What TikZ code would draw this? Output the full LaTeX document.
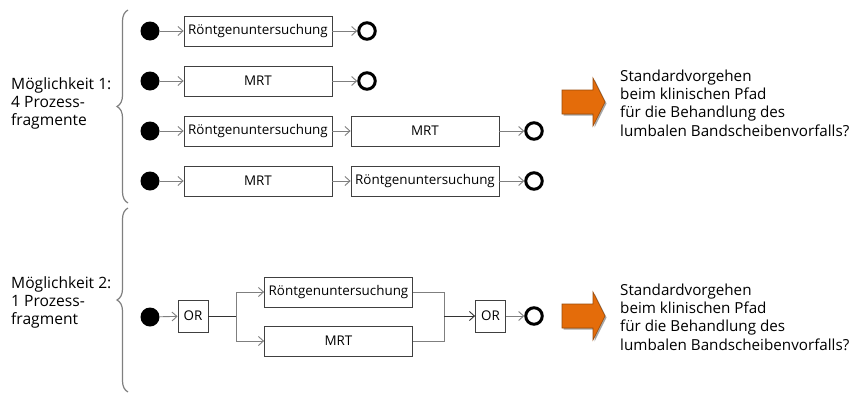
\documentclass[tikz,border=0pt]{standalone}
\usepackage{fontspec}
\setmainfont{Open Sans}
\usetikzlibrary{arrows.meta,decorations.pathreplacing,calc}

\definecolor{lineg}{HTML}{7F7F7F}
\definecolor{boxline}{HTML}{404040}
\definecolor{accent}{HTML}{E46C0A}
\definecolor{accentdark}{HTML}{9A4A08}

\tikzset{
  proc/.style={draw=boxline, line width=0.8pt, fill=white, minimum width=148pt,
    minimum height=30pt, inner sep=0pt, font=\fontsize{13.4}{15}\selectfont},
  gate/.style={draw=boxline, line width=0.8pt, fill=white, minimum width=30pt,
    minimum height=32pt, inner sep=0pt, font=\fontsize{13.4}{15}\selectfont},
  startdot/.style={circle, fill=black, minimum size=19pt, inner sep=0pt},
  enddot/.style={circle, draw=black, line width=3pt, minimum size=16.5pt, inner sep=0pt},
  flow/.style={draw=lineg, line width=0.9pt, -{Straight Barb[length=5pt,width=9pt,line width=0.9pt]}},
  link/.style={draw=black!80, line width=0.9pt},
  curly/.style={draw=lineg, line width=1.2pt, decorate,
    decoration={brace, amplitude=11pt, aspect=0.5}},
  label/.style={align=left, inner sep=0pt, font=\fontsize{15.6}{18}\selectfont},
  question/.style={align=left, inner sep=0pt, font=\fontsize{15.2}{18.3}\selectfont},
  bigarrow/.style={fill=accent, draw=accentdark, line width=0.6pt}
}

\begin{document}
\begin{tikzpicture}[x=1pt, y=-1pt]
\useasboundingbox (0,0) rectangle (853,394);

% ---- option 1: four separate fragments ----
\node[startdot] (s1) at (150,31) {};
\node[proc] (a1) at (258,31) {Röntgenuntersuchung};
\node[enddot] (e1) at (367,31) {};
\draw[flow] (s1) -- (a1);
\draw[flow] (a1) -- (e1);

\node[startdot] (s2) at (150,81) {};
\node[proc] (a2) at (258,81) {MRT};
\node[enddot] (e2) at (367,81) {};
\draw[flow] (s2) -- (a2);
\draw[flow] (a2) -- (e2);

\node[startdot] (s3) at (150,131) {};
\node[proc] (a3) at (258,131) {Röntgenuntersuchung};
\node[proc] (b3) at (425,131) {MRT};
\node[enddot] (e3) at (534,131) {};
\draw[flow] (s3) -- (a3);
\draw[flow] (a3) -- (b3);
\draw[flow] (b3) -- (e3);

\node[startdot] (s4) at (150,181) {};
\node[proc] (a4) at (258,181) {MRT};
\node[proc] (b4) at (425,181) {Röntgenuntersuchung};
\node[enddot] (e4) at (534,181) {};
\draw[flow] (s4) -- (a4);
\draw[flow] (a4) -- (b4);
\draw[flow] (b4) -- (e4);

% ---- option 2: one fragment with OR branches ----
\node[startdot] (s5) at (150,317) {};
\node[gate] (g1) at (193,316) {OR};
\coordinate (fork) at (236,316);
\node[proc] (a5) at (338.5,292) {Röntgenuntersuchung};
\node[proc] (b5) at (338.5,341) {MRT};
\coordinate (merge) at (444,316);
\node[gate] (g2) at (490.5,316) {OR};
\node[enddot] (e5) at (534,316) {};
\draw[flow] (s5) -- (g1);
\draw[link] (g1) -- (fork);
\draw[flow] (fork) |- (a5);
\draw[flow] (fork) |- (b5);
\draw[draw=lineg, line width=0.9pt] (a5) -| (merge);
\draw[draw=lineg, line width=0.9pt] (b5) -| (merge);
\draw[flow, draw=black!80] (merge) -- (g2);
\draw[flow] (g2) -- (e5);

% ---- braces and their captions ----
\draw[curly] (128,203) -- (128,10);
\draw[curly] (128,392) -- (128,208);
\node[label, anchor=west] (t1) at (11,103) {Möglichkeit 1:\\4 Prozess-\\fragmente};
\node[label, anchor=west] (t2) at (11,302) {Möglichkeit 2:\\1 Prozess-\\fragment};

% ---- orange arrows and question ----
\foreach \cy/\nm in {102/q1, 316/q2}{
  \fill[black!35, shift={(1.5,1.5)}] (562,\cy-12) -- (593,\cy-12) -- (593,\cy-24) -- (605,\cy) -- (593,\cy+24) -- (593,\cy+12) -- (562,\cy+12) -- cycle;
  \path[bigarrow] (562,\cy-12) -- (593,\cy-12) -- (593,\cy-24) -- (605,\cy) -- (593,\cy+24) -- (593,\cy+12) -- (562,\cy+12) -- cycle;
  \node[question, anchor=west] (\nm) at (620,\cy+1) {Standardvorgehen\\beim klinischen Pfad\\für die Behandlung des\\lumbalen Bandscheibenvorfalls?};
}
\end{tikzpicture}
\end{document}
